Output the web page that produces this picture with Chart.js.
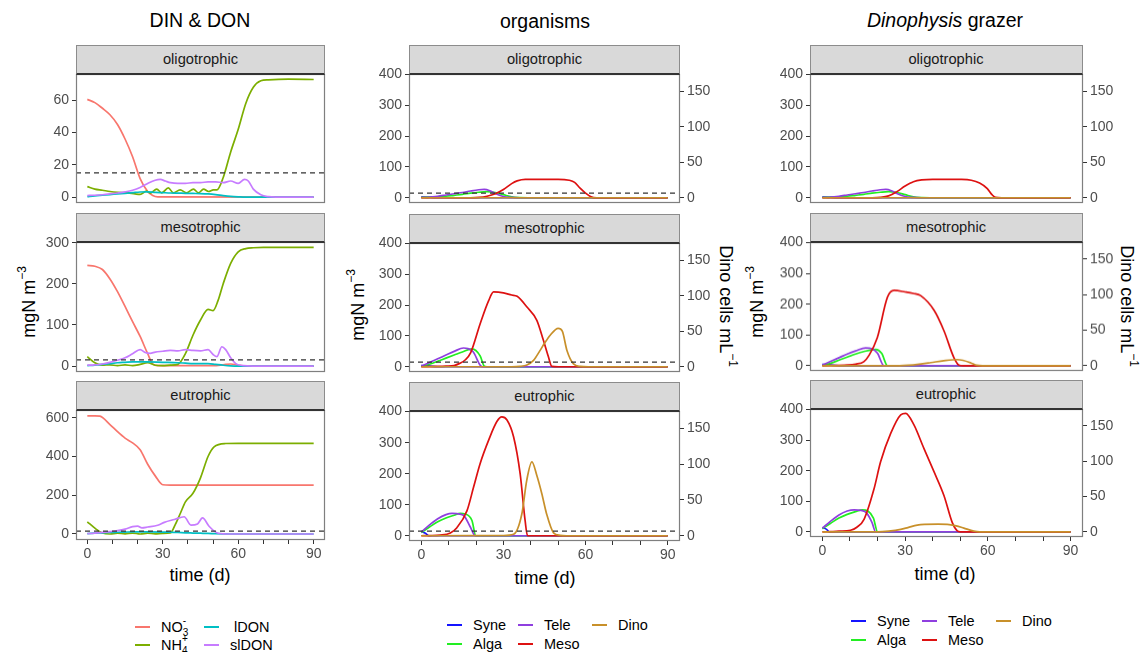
<!DOCTYPE html>
<html>
<head>
<meta charset="utf-8">
<script src="https://cdn.jsdelivr.net/npm/chart.js"></script>
<style>
body{margin:0;background:#fff;width:1141px;height:652px;position:relative;overflow:hidden;font-family:"Liberation Sans",Arial,sans-serif;color:#000}
.c{position:absolute;transform:translate(-50%,-50%);white-space:nowrap}
.title{font-size:19.5px}
.ax{font-size:18px}
.ax sup{font-size:12px;vertical-align:9px}
.strip{position:absolute;background:#d9d9d9;border:1px solid #8c8c8c;border-bottom:2px solid #333;box-sizing:border-box;text-align:center;font-size:14.7px;color:#1a1a1a}
.key{position:absolute;height:2px}
.lab{position:absolute;font-size:14.5px;transform:translateY(-50%);white-space:nowrap}
.rel{position:relative}
.sb{position:absolute;left:100%;top:8px;font-size:10px}
.sp{position:absolute;left:100%;top:-4px;font-size:10px}
</style>
</head>
<body>
<div class="c title" style="left:200px;top:20px">DIN &amp; DON</div>
<div class="c title" style="left:545px;top:21px">organisms</div>
<div class="c title" style="left:945px;top:20px"><i>Dinophysis</i> grazer</div>

<div class="c ax" style="left:27px;top:302px;transform:translate(-50%,-50%) rotate(-90deg)">mgN m<sup>−3</sup></div>
<div class="c ax" style="left:356px;top:305px;transform:translate(-50%,-50%) rotate(-90deg)">mgN m<sup>−3</sup></div>
<div class="c ax" style="left:755px;top:302px;transform:translate(-50%,-50%) rotate(-90deg)">mgN m<sup>−3</sup></div>
<div class="c ax" style="left:727px;top:306px;transform:translate(-50%,-50%) rotate(90deg)">Dino cells mL<sup>−1</sup></div>
<div class="c ax" style="left:1128px;top:306px;transform:translate(-50%,-50%) rotate(90deg)">Dino cells mL<sup>−1</sup></div>
<div class="c ax" style="left:200px;top:575px">time (d)</div>
<div class="c ax" style="left:545px;top:578px">time (d)</div>
<div class="c ax" style="left:945px;top:574px">time (d)</div>

<div id="legends"></div>

<script>
// time axis
var xTicks = [0, 10, 20, 30, 40, 50, 60, 70, 80, 90];
var xLabels = [0, 30, 60, 90];
var threshold = 15;          // dashed reference line, mgN m-3
var cellsPerMgN = 0.433;     // secondary axis scaling

// DIN & DON (mgN m-3), [day, value]
var no3Oligo = [[0,60.5],[3,58.5],[6,55],[9,51],[12,45],[15,36],[18,25],[21,11.5],[24,3.5],[26,1],[28,0.2],[90,0]];
var nh4Oligo = [[0,6.5],[3,5],[6,4.3],[9,3.5],[12,3],[16,2.7],[19,2],[21,1.7],[23.5,3.7],[25,2.5],[27.6,5],[29.6,2.7],[32.2,5.7],[34.2,2.7],[36.9,4.5],[39.5,2.7],[42.2,5],[44.2,2.7],[46.2,5],[48.2,3.5],[50.1,4.5],[51.5,4.5],[54,12],[57,28],[60,42],[63,58],[66,68],[69,72],[72,72.6],[80,73],[90,72.8]];
var ldonOligo = [[0,0.3],[3,0.8],[6,1.2],[9,1.6],[12,2],[15,2.4],[18,2.8],[21,3.2],[24,3.3],[27,3],[30,2.8],[33,2.6],[36,2.5],[39,2.4],[42,2.3],[45,2.2],[48,2],[51,1.6],[54,1],[57,0.5],[60,0.2],[63,0],[90,0]];
var sldonOligo = [[0,1],[3,1.2],[6,1.5],[9,2],[12,2.6],[15,3.3],[18,4.3],[21,6],[24,8.5],[27,10.5],[29,11],[31,10],[33,9],[36,8.5],[39,8.5],[42,9],[45,9],[48,9.5],[51,9.5],[54,9],[57,10],[60,8.5],[62.5,11],[64,10],[66,5],[69,1.5],[72,0.3],[75,0],[90,0]];

var no3Meso = [[0,245],[3,243],[6,235],[9,212],[12,181],[15,145],[18,108],[21,72],[24,30],[26,5],[28,1],[50,1],[54,3],[57,5],[60,2],[63,0],[90,0]];
var nh4Meso = [[0,23],[3,8],[6,2],[9,3],[12,1],[15,3],[18,1],[21,4],[24,8],[27,2],[30,1],[33,2],[36,4],[39,30],[42,75],[45,112],[48,138],[50,135],[52,160],[54,200],[57,250],[60,278],[63,286],[66,288],[70,289],[90,289]];
var ldonMeso = [[0,1],[3,2],[6,4],[9,6],[12,8],[15,9],[18,10],[24,10],[30,9],[36,8],[39,7],[42,6],[48,6],[51,4],[54,2],[57,0.5],[60,0],[90,0]];
var sldonMeso = [[0,2],[3,3],[6,5],[9,9],[12,14],[15,20],[18,30],[21,40],[23,33],[25,31],[27,34],[30,36],[33,38],[36,37],[39,40],[42,38],[45,37],[48,40],[50,28],[51.5,23],[53.5,47],[55,40],[57,20],[59,6],[62,1],[66,0],[90,0]];

var no3Eu = [[0,610],[3,610],[5,608],[9,565],[12,528],[15,495],[18,470],[21,435],[24,360],[27,300],[30,254],[33,252],[90,252]];
var nh4Eu = [[0,63],[3,30],[6,5],[9,0],[12,4],[15,1],[18,5],[21,0],[24,4],[27,1],[30,3],[33,5],[35,50],[37,107],[39,166],[42,210],[45,290],[48,400],[50.4,450],[55,467],[60,468],[90,468]];
var ldonEu = [[0,2],[3,4],[6,6],[9,8],[12,9],[15,10],[18,11],[24,11],[30,10],[33,9],[36,8],[39,6],[42,5],[45,4],[48,3],[51,1.5],[54,0.5],[57,0],[90,0]];
var sldonEu = [[0,2],[3,4],[6,8],[9,12],[12,17],[15,25],[18,38],[20,41],[21.7,32],[24,36],[28,45],[30.6,60],[34.6,75],[38.5,89],[41.2,46],[43.8,52],[45.8,83],[48.4,40],[51.7,5],[54,1],[57,0],[90,0]];

// organisms (mgN m-3; Dino in cells mL-1)
var syneOrgOligo = [[0,3],[3,1],[6,0],[90,0]];
var algaOrgOligo = [[0,1],[3,2],[6,3],[9,5],[12,8],[15,11],[18,15],[21,18],[24,20],[27,17],[30,10],[33,3],[36,0.5],[39,0],[90,0]];
var teleOrgOligo = [[0,1],[3,2],[6,5],[9,9],[12,13],[15,17],[18,22],[21,26],[23,27],[25,23],[27,14],[30,4],[33,1],[36,0],[90,0]];
var mesoOrgOligo = [[0,0],[18,0],[21,1],[24,5],[27,13],[30,27],[33,46],[35,55],[38,60],[50,60],[54,57],[56,50],[58,31],[60,15],[62,3],[64,0],[90,0]];
var dinoOrgOligo = [[0,0],[90,0]];

var syneOrgMeso = [[0,5],[3,2],[6,0],[90,0]];
var algaOrgMeso = [[0,1],[3,8],[6,18],[9,28],[12,38],[15,48],[18.5,58],[21.5,35],[23,2],[24,0],[90,0]];
var teleOrgMeso = [[0,2],[3,14],[6,26],[9,38],[12,50],[15.4,61],[17,59],[19,48],[21.5,5],[22.5,0],[90,0]];
var mesoOrgMeso = [[0,0],[6,1],[9,2],[12,4],[14,11],[16,22],[18,45],[21.5,140],[24.6,215],[26.4,243],[30,240],[33,233],[35,229],[38.6,194],[42.2,151],[44.6,86],[46.4,33],[47.7,1],[50,0],[90,0]];
var dinoOrgMeso = [[0,0],[33,0],[36,0.5],[38.6,2.6],[41,9],[43.4,23],[45,33],[47,44],[50,54],[51.5,50],[53.2,23],[55.6,4],[58,0.5],[61,0],[90,0]];

var syneOrgEu = [[0,14],[1.5,8],[2.7,0],[90,0]];
var algaOrgEu = [[0,10],[3,28],[6,45],[9,57],[12,66],[14.2,72],[16,70],[18.5,49],[19.9,0],[90,0]];
var teleOrgEu = [[0,12],[3,35],[6,55],[9,68],[11.2,72],[13,71],[15.4,66],[17.9,28],[19.7,0],[90,0]];
var mesoOrgEu = [[0,0],[3,0.5],[6.9,2],[10.6,9],[13,26],[16.7,81],[19.1,157],[21.5,233],[24.6,308],[27.6,368],[29.4,383],[31.3,373],[33.7,319],[36.1,200],[37.9,50],[38.8,0],[90,0]];
var dinoOrgEu = [[0,0],[30,0.3],[33.7,2],[36.7,30],[38.5,77],[40.4,103],[42.2,84],[44,59],[45.8,30],[48.3,4],[50.7,0.5],[53,0],[90,0]];

// Dinophysis grazer
var syneGrzOligo = [[0,3],[3,1],[6,0],[90,0]];
var algaGrzOligo = [[0,1],[3,2],[6,3],[9,5],[12,8],[15,11],[18,15],[21,18],[24,20],[27,17],[30,10],[33,3],[36,0.5],[39,0],[90,0]];
var teleGrzOligo = [[0,1],[3,2],[6,5],[9,9],[12,13],[15,17],[18,22],[21,26],[23,27],[25,23],[27,14],[30,4],[33,1],[36,0],[90,0]];
var mesoGrzOligo = [[0,0],[18,0],[21,1],[24,6],[27,20],[30,38],[33,52],[36,58],[40,60],[50,59.5],[54,57],[57,48],[59.8,30],[61.5,10],[62.8,1],[65,0],[90,0]];
var dinoGrzOligo = [[0,0],[90,0]];

var syneGrzMeso = [[0,5],[3,2],[6,0],[90,0]];
var algaGrzMeso = [[0,1],[3,8],[6,18],[9,28],[12,38],[15,46],[19.3,53],[21.5,40],[23.6,0],[90,0]];
var teleGrzMeso = [[0,2],[3,14],[6,26],[9,38],[12,48],[15.7,58],[18,55],[20,40],[22.3,0],[90,0]];
var mesoGrzMeso = [[0,0],[9,2],[12,5],[15,13],[17,35],[19.9,91],[23.6,223],[26,245],[30,240],[33,235],[35.6,228],[40.5,180],[44.1,113],[47.7,26],[49.5,2],[51,0],[90,0]];
var dinoGrzMeso = [[0,0],[28,0],[31,0.5],[35,2],[39.3,4.3],[44,7],[48.9,8.6],[51,7.5],[53.8,4],[56,0.5],[58,0],[90,0]];

var syneGrzEu = [[0,14],[1.5,8],[2.5,0],[90,0]];
var algaGrzEu = [[0,10],[3,28],[6,45],[9,57],[12,66],[14.5,72],[16.5,68],[18.5,45],[20,0],[90,0]];
var teleGrzEu = [[0,12],[3,35],[6,55],[9,68],[11.5,72],[14,70],[16,62],[18,30],[19.3,0],[90,0]];
var mesoGrzEu = [[0,0],[3,0.5],[6,2],[10.2,5],[12.5,15],[15.1,41],[18.7,140],[21.1,229],[24.8,323],[28.4,383],[30.2,388],[33.2,350],[36.8,273],[40.5,196],[44.1,118],[47.1,30],[48.9,3],[50,0],[90,0]];
var dinoGrzEu = [[0,0],[20,0],[24,1],[28.4,3.4],[31,6],[34.4,9.5],[37,10.5],[42,10.8],[46,10.3],[48.5,8.5],[51.3,5.2],[54.9,1],[57,0],[90,0]];

var dinNames = ["NO3", "NH4", "lDON", "slDON"];
var dinColors = ["#F8766D", "#7CAE00", "#00BFC4", "#C77CFF"];
var orgNames = ["Syne", "Alga", "Tele", "Meso", "Dino"];
var orgColors = ["#1414FF", "#22EE22", "#8F3FDF", "#DD1111", "#C8902A"];

Chart.defaults.font.family = '"Liberation Sans", Arial, sans-serif';
Chart.defaults.font.size = 14;
Chart.defaults.color = '#4d4d4d';

var panelBox = {
  id: 'panelBox',
  afterDatasetsDraw: function(c) {
    var a = c.chartArea, ctx = c.ctx;
    ctx.save();
    ctx.strokeStyle = '#7f7f7f';
    ctx.lineWidth = 1.2;
    ctx.strokeRect(a.left + 0.5, a.top + 0.5, a.right - a.left - 1, a.bottom - a.top - 1);
    ctx.restore();
  }
};

function pts(arr) { return arr.map(function(d) { return {x: d[0], y: d[1]}; }); }

var tickGrid = {drawOnChartArea: false, drawTicks: true, tickLength: 4, color: '#333', lineWidth: 1};

function panel(p) {
  var showX = !!p.xlab;
  var padL = 44, padR = p.right ? 44 : 8, padT = 12, padB = showX ? 32 : 14;
  var w = p.R - p.L + padL + padR, h = p.B - p.T + padT + padB;
  var cv = document.createElement('canvas');
  cv.width = w; cv.height = h;
  cv.style.cssText = 'position:absolute;left:' + (p.L - padL) + 'px;top:' + (p.T - padT) + 'px;width:' + w + 'px;height:' + h + 'px';
  document.body.appendChild(cv);

  var s = document.createElement('div');
  s.className = 'strip';
  s.style.cssText = 'left:' + p.L + 'px;top:' + (p.T - 29) + 'px;width:' + (p.R - p.L) + 'px;height:30px;line-height:27px';
  s.textContent = p.strip;
  document.body.appendChild(s);

  var ds = [];
  if (p.hline) {
    ds.push({data: [{x: -4.5, y: threshold}, {x: 94.5, y: threshold}], borderColor: '#333', borderWidth: 1.2, borderDash: [5, 4], yAxisID: 'y'});
  }
  for (var i = p.series.length - 1; i >= 0; i--) {
    ds.push({data: pts(p.series[i]), borderColor: p.colors[i], borderWidth: 1.7,
      yAxisID: (p.right && i === 4) ? 'y2' : 'y', cubicInterpolationMode: 'monotone'});
  }

  var scales = {
    x: {type: 'linear', display: showX, min: -4.5, max: 94.5,
      afterBuildTicks: function(sc) { sc.ticks = xTicks.map(function(v) { return {value: v}; }); },
      afterFit: function(sc) { if (showX) sc.height = padB; },
      grid: tickGrid, border: {display: false},
      ticks: {padding: 2, maxRotation: 0, autoSkip: false,
        callback: function(v) { return xLabels.indexOf(v) >= 0 ? String(v) : ''; }}},
    y: {type: 'linear', min: p.ymin, max: p.ymax,
      afterBuildTicks: function(sc) { sc.ticks = p.yticks.map(function(v) { return {value: v}; }); },
      afterFit: function(sc) { sc.width = padL; },
      grid: tickGrid, border: {display: false},
      ticks: {padding: 3, callback: function(v) { return String(v); }}}
  };
  if (p.right) {
    scales.y2 = {type: 'linear', position: 'right', min: p.ymin * cellsPerMgN, max: p.ymax * cellsPerMgN,
      afterBuildTicks: function(sc) { sc.ticks = [0, 50, 100, 150].map(function(v) { return {value: v}; }); },
      afterFit: function(sc) { sc.width = padR; },
      grid: tickGrid, border: {display: false},
      ticks: {padding: 3, callback: function(v) { return String(v); }}};
  }

  new Chart(cv, {
    type: 'line',
    data: {datasets: ds},
    options: {
      responsive: false,
      animation: false,
      devicePixelRatio: 1,
      elements: {point: {radius: 0}},
      layout: {autoPadding: false, padding: {left: 0, right: p.right ? 0 : padR, top: padT, bottom: showX ? 0 : padB}},
      plugins: {legend: {display: false}, tooltip: {enabled: false}},
      scales: scales
    },
    plugins: [panelBox]
  });
}

var orgY = [-17, 402];
var orgTicks = [0, 100, 200, 300, 400];

var panels = [
  {L: 76, R: 325, T: 74, B: 203, strip: 'oligotrophic', ymin: -3.6, ymax: 76.2, yticks: [0, 20, 40, 60],
   series: [no3Oligo, nh4Oligo, ldonOligo, sldonOligo], colors: dinColors, hline: true},
  {L: 76, R: 325, T: 242, B: 372, strip: 'mesotrophic', ymin: -14.5, ymax: 302, yticks: [0, 100, 200, 300],
   series: [no3Meso, nh4Meso, ldonMeso, sldonMeso], colors: dinColors, hline: true},
  {L: 76, R: 325, T: 410, B: 540, strip: 'eutrophic', ymin: -31, ymax: 640, yticks: [0, 200, 400, 600],
   series: [no3Eu, nh4Eu, ldonEu, sldonEu], colors: dinColors, hline: true, xlab: true},

  {L: 409, R: 680, T: 74, B: 203, strip: 'oligotrophic', ymin: orgY[0], ymax: orgY[1], yticks: orgTicks, right: true,
   series: [syneOrgOligo, algaOrgOligo, teleOrgOligo, mesoOrgOligo, dinoOrgOligo], colors: orgColors, hline: true},
  {L: 409, R: 680, T: 242.5, B: 372, strip: 'mesotrophic', ymin: orgY[0], ymax: orgY[1], yticks: orgTicks, right: true,
   series: [syneOrgMeso, algaOrgMeso, teleOrgMeso, mesoOrgMeso, dinoOrgMeso], colors: orgColors, hline: true},
  {L: 409, R: 680, T: 410.5, B: 541, strip: 'eutrophic', ymin: orgY[0], ymax: orgY[1], yticks: orgTicks, right: true,
   series: [syneOrgEu, algaOrgEu, teleOrgEu, mesoOrgEu, dinoOrgEu], colors: orgColors, hline: true, xlab: true},

  {L: 809.5, R: 1082.5, T: 74, B: 203, strip: 'oligotrophic', ymin: orgY[0], ymax: orgY[1], yticks: orgTicks, right: true,
   series: [syneGrzOligo, algaGrzOligo, teleGrzOligo, mesoGrzOligo, dinoGrzOligo], colors: orgColors},
  {L: 809.5, R: 1082.5, T: 242, B: 370.5, strip: 'mesotrophic', ymin: orgY[0], ymax: orgY[1], yticks: orgTicks, right: true,
   series: [syneGrzMeso, algaGrzMeso, teleGrzMeso, mesoGrzMeso, dinoGrzMeso], colors: orgColors},
  {L: 809.5, R: 1082.5, T: 409, B: 537, strip: 'eutrophic', ymin: orgY[0], ymax: orgY[1], yticks: orgTicks, right: true,
   series: [syneGrzEu, algaGrzEu, teleGrzEu, mesoGrzEu, dinoGrzEu], colors: orgColors, xlab: true}
];
panels.forEach(panel);

// legends
var lg = document.getElementById('legends');
function key(x, y, color, html) {
  var k = document.createElement('div');
  k.className = 'key';
  k.style.cssText = 'left:' + x + 'px;top:' + (y - 1) + 'px;width:15px;background:' + color;
  lg.appendChild(k);
  var t = document.createElement('div');
  t.className = 'lab';
  t.style.left = (x + 26) + 'px';
  t.style.top = y + 'px';
  t.innerHTML = html;
  lg.appendChild(t);
}
key(135, 627, dinColors[0], '<span class="rel">NO<span class="sb">3</span><span class="sp">-</span></span>');
key(135, 645, dinColors[1], '<span class="rel">NH<span class="sb">4</span><span class="sp">+</span></span>');
key(204, 627, dinColors[2], '&nbsp;' + dinNames[2]);
key(204, 645, dinColors[3], dinNames[3]);

[[447, 625], [851, 621]].forEach(function(o) {
  var x = o[0], y = o[1];
  key(x, y, orgColors[0], orgNames[0]);
  key(x, y + 19, orgColors[1], orgNames[1]);
  key(x + 71, y, orgColors[2], orgNames[2]);
  key(x + 71, y + 19, orgColors[3], orgNames[3]);
  key(x + 145, y, orgColors[4], orgNames[4]);
});
</script>
</body>
</html>
